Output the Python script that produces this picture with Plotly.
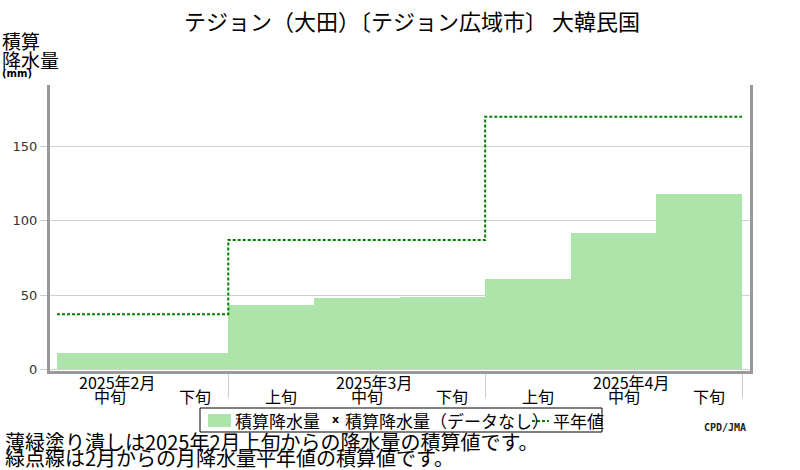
import plotly.graph_objects as go

JP_FONT = "Noto Sans CJK JP"

# dekads shown on the x axis (2025-02 mid .. 2025-04 late)
dekad_labels = ["中旬", "下旬", "上旬", "中旬", "下旬", "上旬", "中旬", "下旬"]
dekad_month = [0, 0, 1, 1, 1, 2, 2, 2]
month_labels = ["2025年2月", "2025年3月", "2025年4月"]

# accumulated precipitation (mm) and accumulated monthly normal (mm)
precip_cum = [11, 11, 43, 48, 49, 61, 92, 118]
normal_cum = [37, 37, 87, 87, 87, 170, 170, 170]

y_ticks = [0, 50, 100, 150]

title = "テジョン（大田）〔テジョン広域市〕 大韓民国"
legend_names = ["積算降水量", "積算降水量（データなし）", "平年値"]
note1 = "薄緑塗り潰しは2025年2月上旬からの降水量の積算値です。"
note2 = "緑点線は2月からの月降水量平年値の積算値です。"

BAR_COLOR = "#ace4aa"
NORMAL_COLOR = "#008000"

# plot area in pixels (800x470 page)
L, R, T, B = 50, 750, 85, 371


def px_x(p):
	return (p - L) / (R - L)


def px_y(p):
	return (B - p) / (B - T)


n = len(dekad_labels)
xs = list(range(n))

# month boundaries (between dekads of different months) + right end
month_edges = [i + 0.5 for i in range(n - 1) if dekad_month[i] != dekad_month[i + 1]] + [n - 0.5]

fig = go.Figure()

fig.add_trace(go.Bar(
	x=xs, y=precip_cum, width=1,
	marker=dict(color=BAR_COLOR, line=dict(width=0)),
	name=legend_names[0],
))

step_x = [i - 0.5 for i in xs] + [n - 0.5]
step_y = normal_cum + [normal_cum[-1]]
fig.add_trace(go.Scatter(
	x=step_x, y=step_y, mode="lines", line_shape="hv",
	line=dict(color=NORMAL_COLOR, width=2, dash="3px,2px"),
	name=legend_names[2],
))

annotations = []
for i, lab in enumerate(dekad_labels):
	annotations.append(dict(
		x=i, y=0, xref="x", yref="paper", text=lab, showarrow=False,
		xanchor="center", yanchor="middle", xshift=10, yshift=-25,
		font=dict(family=JP_FONT, size=16, color="black"),
	))
for m, lab in enumerate(month_labels):
	mid = [i for i in xs if dekad_month[i] == m and dekad_labels[i] == "中旬"][0]
	annotations.append(dict(
		x=mid, y=0, xref="x", yref="paper", text=lab, showarrow=False,
		xanchor="center", yanchor="middle", xshift=17, yshift=-11,
		font=dict(family=JP_FONT, size=16, color="black"),
	))

# y axis title, stacked in the top-left corner
for txt, ypx in [("積算", 40), ("降水量", 60)]:
	annotations.append(dict(
		x=px_x(0), y=px_y(ypx), xref="paper", yref="paper", text=txt, showarrow=False,
		xanchor="left", yanchor="middle",
		font=dict(family=JP_FONT, size=19, color="black"),
	))
annotations.append(dict(
	x=px_x(0), y=px_y(73), xref="paper", yref="paper", text="<b>(mm)</b>", showarrow=False,
	xanchor="left", yanchor="middle",
	font=dict(family="DejaVu Sans", size=10, color="black"),
))

annotations.append(dict(
	x=px_x(748), y=px_y(427), xref="paper", yref="paper", text="<b>CPD/JMA</b>", showarrow=False,
	xanchor="right", yanchor="middle",
	font=dict(family="DejaVu Sans Mono", size=10, color="#222"),
))
for txt, ypx in [(note1, 441), (note2, 457)]:
	annotations.append(dict(
		x=px_x(3), y=px_y(ypx), xref="paper", yref="paper", text=txt, showarrow=False,
		xanchor="left", yanchor="middle",
		font=dict(family=JP_FONT, size=20, color="black"),
	))

# hand-drawn legend box
shapes = [
	dict(type="rect", xref="paper", yref="paper", x0=px_x(200), x1=px_x(602), y0=px_y(408), y1=px_y(432),
		line=dict(color="black", width=1), fillcolor="white"),
	dict(type="rect", xref="paper", yref="paper", x0=px_x(208), x1=px_x(231), y0=px_y(414), y1=px_y(427),
		line=dict(width=0), fillcolor=BAR_COLOR),
	dict(type="line", xref="paper", yref="paper", x0=px_x(532), x1=px_x(549), y0=px_y(421), y1=px_y(421),
		line=dict(color=NORMAL_COLOR, width=2, dash="3px,2px")),
]
for txt, xpx in [(legend_names[0], 233), (legend_names[1], 343), (legend_names[2], 551)]:
	annotations.append(dict(
		x=px_x(xpx), y=px_y(420), xref="paper", yref="paper", text=txt, showarrow=False,
		xanchor="left", yanchor="middle",
		font=dict(family=JP_FONT, size=17, color="black"),
	))
annotations.append(dict(
	x=px_x(335), y=px_y(419), xref="paper", yref="paper", text="<b>x</b>", showarrow=False,
	xanchor="center", yanchor="middle",
	font=dict(family="DejaVu Sans", size=11, color="black"),
))

fig.update_layout(
	width=800, height=470,
	margin=dict(l=L, r=800 - R, t=T, b=470 - B, autoexpand=False),
	plot_bgcolor="white", paper_bgcolor="white",
	bargap=0,
	title=dict(text=title, x=0.515, xanchor="center", y=1 - 22 / 470, yanchor="middle",
		font=dict(family=JP_FONT, size=22, color="black")),
	showlegend=False,
	hovermode=False,
	annotations=annotations,
	shapes=shapes,
)

fig.update_xaxes(
	range=[-0.582, 7.593],
	tickvals=month_edges, ticktext=["" for _ in month_edges],
	ticks="outside", ticklen=24, tickcolor="#cccccc", tickwidth=1,
	showgrid=False, zeroline=False,
	showline=True, linecolor="#999999", linewidth=3,
)
fig.update_yaxes(
	range=[-1.1, 191.3],
	tickvals=y_ticks,
	ticks="outside", ticklen=7, tickcolor="#cccccc",
	showgrid=True, gridcolor="#d0d0d0", gridwidth=1, zeroline=False,
	showline=True, linecolor="#999999", linewidth=3, mirror=True,
	tickfont=dict(family="DejaVu Sans", size=13, color="#333333"),
)

fig.write_html("out.html", config={"displayModeBar": False},
	post_script="document.body.style.margin='0';")
